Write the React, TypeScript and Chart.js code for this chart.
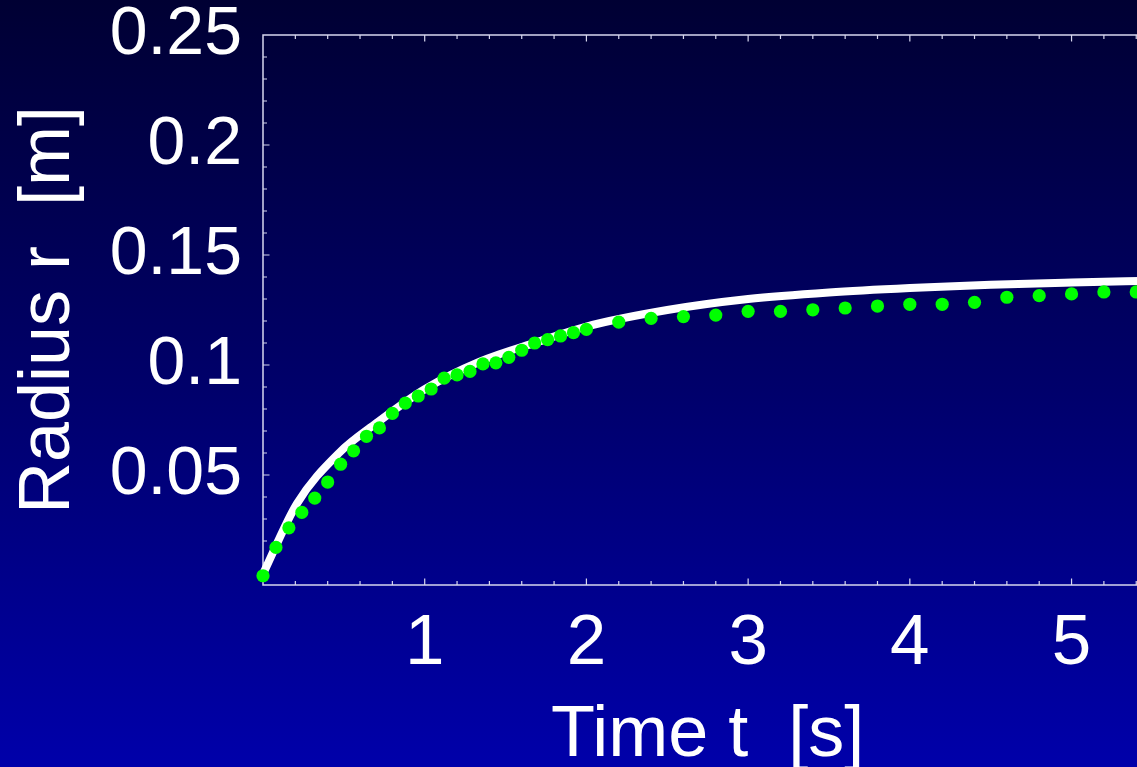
import React, { useEffect, useRef } from "react";
import { Chart, registerables } from "chart.js";

Chart.register(...registerables);

// ---- data ----
const measuredTimes = [
  0, 0.08, 0.16, 0.24, 0.32, 0.4, 0.48, 0.56, 0.64, 0.72, 0.8, 0.88, 0.96,
  1.04, 1.12, 1.2, 1.28, 1.36, 1.44, 1.52, 1.6, 1.68, 1.76, 1.84, 1.92, 2.0,
  2.2, 2.4, 2.6, 2.8, 3.0, 3.2, 3.4, 3.6, 3.8, 4.0, 4.2, 4.4, 4.6, 4.8, 5.0,
  5.2, 5.4,
];
const measuredRadius = [
  0.0042, 0.0171, 0.026, 0.033, 0.0395, 0.0468, 0.0549, 0.061, 0.0676, 0.0714,
  0.078, 0.0827, 0.0859, 0.0891, 0.094, 0.0955, 0.0971, 0.1005, 0.101, 0.1035,
  0.1067, 0.11, 0.1115, 0.1132, 0.1147, 0.1162,
  0.1195, 0.1212, 0.122, 0.1227, 0.1244, 0.1244, 0.1251, 0.1259, 0.1268,
  0.1276, 0.1276, 0.1285, 0.1308, 0.1315, 0.1323, 0.1332, 0.1332,
];

const modelTimes = [0, 0.21, 0.47, 0.7, 1.0, 1.34, 1.7, 2.0, 2.5, 3.0, 3.5, 4.0, 4.5, 5.0, 5.5];
const modelRadius = [
  0.005, 0.037, 0.06, 0.0735, 0.089, 0.1015, 0.1105, 0.1175, 0.125, 0.13,
  0.133, 0.135, 0.1365, 0.1375, 0.1383,
];

const xTickValues = [1, 2, 3, 4, 5];
const xTickLabels = ["1", "2", "3", "4", "5"];
const yTickValues = [0.05, 0.1, 0.15, 0.2, 0.25];
const yTickLabels = ["0.05", "0.1", "0.15", "0.2", "0.25"];

const xMin = 0;
const xMax = 5.5;
const yMin = 0;
const yMax = 0.25;
const xMinorStep = 0.2;
const xMinorPerMajor = 5;
const yMinorStep = 0.01;
const yMinorPerMajor = 5;

const FONT = "'Liberation Sans', Arial, Helvetica, sans-serif";
const AXIS_COLOR = "#d6d6ee";

const framePlugin = {
  id: "frame",
  beforeDatasetsDraw(chart: any) {
    const { ctx, chartArea: a, scales } = chart;
    const x = scales.x;
    const y = scales.y;
    ctx.save();
    ctx.strokeStyle = AXIS_COLOR;
    ctx.lineWidth = 1.5;
    ctx.strokeRect(a.left, a.top, a.right - a.left, a.bottom - a.top);
    ctx.lineWidth = 1.2;
    ctx.beginPath();
    const nx = Math.round((xMax - xMin) / xMinorStep);
    for (let i = 1; i < nx; i++) {
      const v = xMin + i * xMinorStep;
      const len = i % xMinorPerMajor === 0 ? 6.5 : 4;
      const px = x.getPixelForValue(v);
      ctx.moveTo(px, a.bottom);
      ctx.lineTo(px, a.bottom - len);
      ctx.moveTo(px, a.top);
      ctx.lineTo(px, a.top + len);
    }
    const ny = Math.round((yMax - yMin) / yMinorStep);
    for (let i = 1; i < ny; i++) {
      const v = yMin + i * yMinorStep;
      const len = i % yMinorPerMajor === 0 ? 6.5 : 4;
      const py = y.getPixelForValue(v);
      ctx.moveTo(a.left, py);
      ctx.lineTo(a.left + len, py);
      ctx.moveTo(a.right, py);
      ctx.lineTo(a.right - len, py);
    }
    ctx.stroke();
    ctx.restore();
  },
};

export default function App() {
  const canvasRef = useRef<HTMLCanvasElement | null>(null);

  useEffect(() => {
    const canvas = canvasRef.current;
    if (!canvas) return;
    const measured = measuredTimes.map((t, i) => ({ x: t, y: measuredRadius[i] }));
    const model = modelTimes.map((t, i) => ({ x: t, y: modelRadius[i] }));

    const chart = new Chart(canvas, {
      type: "scatter",
      data: {
        datasets: [
          {
            label: "measured",
            data: measured,
            backgroundColor: "#00ff00",
            borderColor: "#00ff00",
            borderWidth: 0,
            pointRadius: 6.6,
            showLine: false,
            clip: false,
            order: 0,
          } as any,
          {
            label: "model",
            data: model,
            showLine: true,
            borderColor: "#ffffff",
            borderWidth: 8,
            pointRadius: 0,
            cubicInterpolationMode: "monotone",
            clip: false,
            order: 1,
          } as any,
        ],
      },
      options: {
        responsive: false,
        animation: false,
        devicePixelRatio: 1,
        layout: { padding: { top: 35, left: 0, right: 0, bottom: 0 } },
        plugins: {
          legend: { display: false },
          tooltip: { enabled: false },
        },
        scales: {
          x: {
            type: "linear",
            position: "bottom",
            min: xMin,
            max: xMax,
            grid: { display: false },
            border: { display: false },
            afterBuildTicks: (scale: any) => {
              scale.ticks = xTickValues.map((v) => ({ value: v }));
            },
            afterFit: (scale: any) => {
              scale.height = 182;
              scale.paddingLeft = 0;
              scale.paddingRight = 0;
            },
            ticks: {
              color: "#ffffff",
              font: { family: FONT, size: 71, lineHeight: 1 },
              padding: 16,
              autoSkip: false,
              maxRotation: 0,
              minRotation: 0,
              callback: (value: any) => {
                const i = xTickValues.indexOf(Number(value));
                return i >= 0 ? xTickLabels[i] : "";
              },
            },
            title: {
              display: true,
              text: "Time t  [s]",
              color: "#ffffff",
              font: { family: FONT, size: 72, lineHeight: 0.86 },
              padding: 0,
            },
          },
          y: {
            type: "linear",
            position: "left",
            min: yMin,
            max: yMax,
            grid: { display: false },
            border: { display: false },
            afterBuildTicks: (scale: any) => {
              scale.ticks = yTickValues.map((v) => ({ value: v }));
            },
            afterFit: (scale: any) => {
              scale.width = 263;
              scale.paddingTop = 0;
              scale.paddingBottom = 0;
            },
            ticks: {
              color: "#ffffff",
              font: { family: FONT, size: 68, lineHeight: 1 },
              padding: 13,
              autoSkip: false,
              callback: (value: any) => {
                const i = yTickValues.findIndex((v) => Math.abs(v - Number(value)) < 1e-9);
                return i >= 0 ? yTickLabels[i] : "";
              },
            },
            title: {
              display: true,
              text: "Radius r  [m]",
              color: "#ffffff",
              font: { family: FONT, size: 72, lineHeight: 1 },
              padding: { top: 13, bottom: 0 },
            },
          },
        },
      },
      plugins: [framePlugin],
    });

    return () => {
      chart.destroy();
    };
  }, []);

  return (
    <div
      style={{
        position: "fixed",
        left: 0,
        top: 0,
        width: 1137,
        height: 767,
        overflow: "hidden",
        background: "linear-gradient(to bottom, #000033 0%, #00006a 50%, #0000aa 100%)",
      }}
    >
      <canvas ref={canvasRef} width={1159} height={767} style={{ display: "block" }} />
    </div>
  );
}
